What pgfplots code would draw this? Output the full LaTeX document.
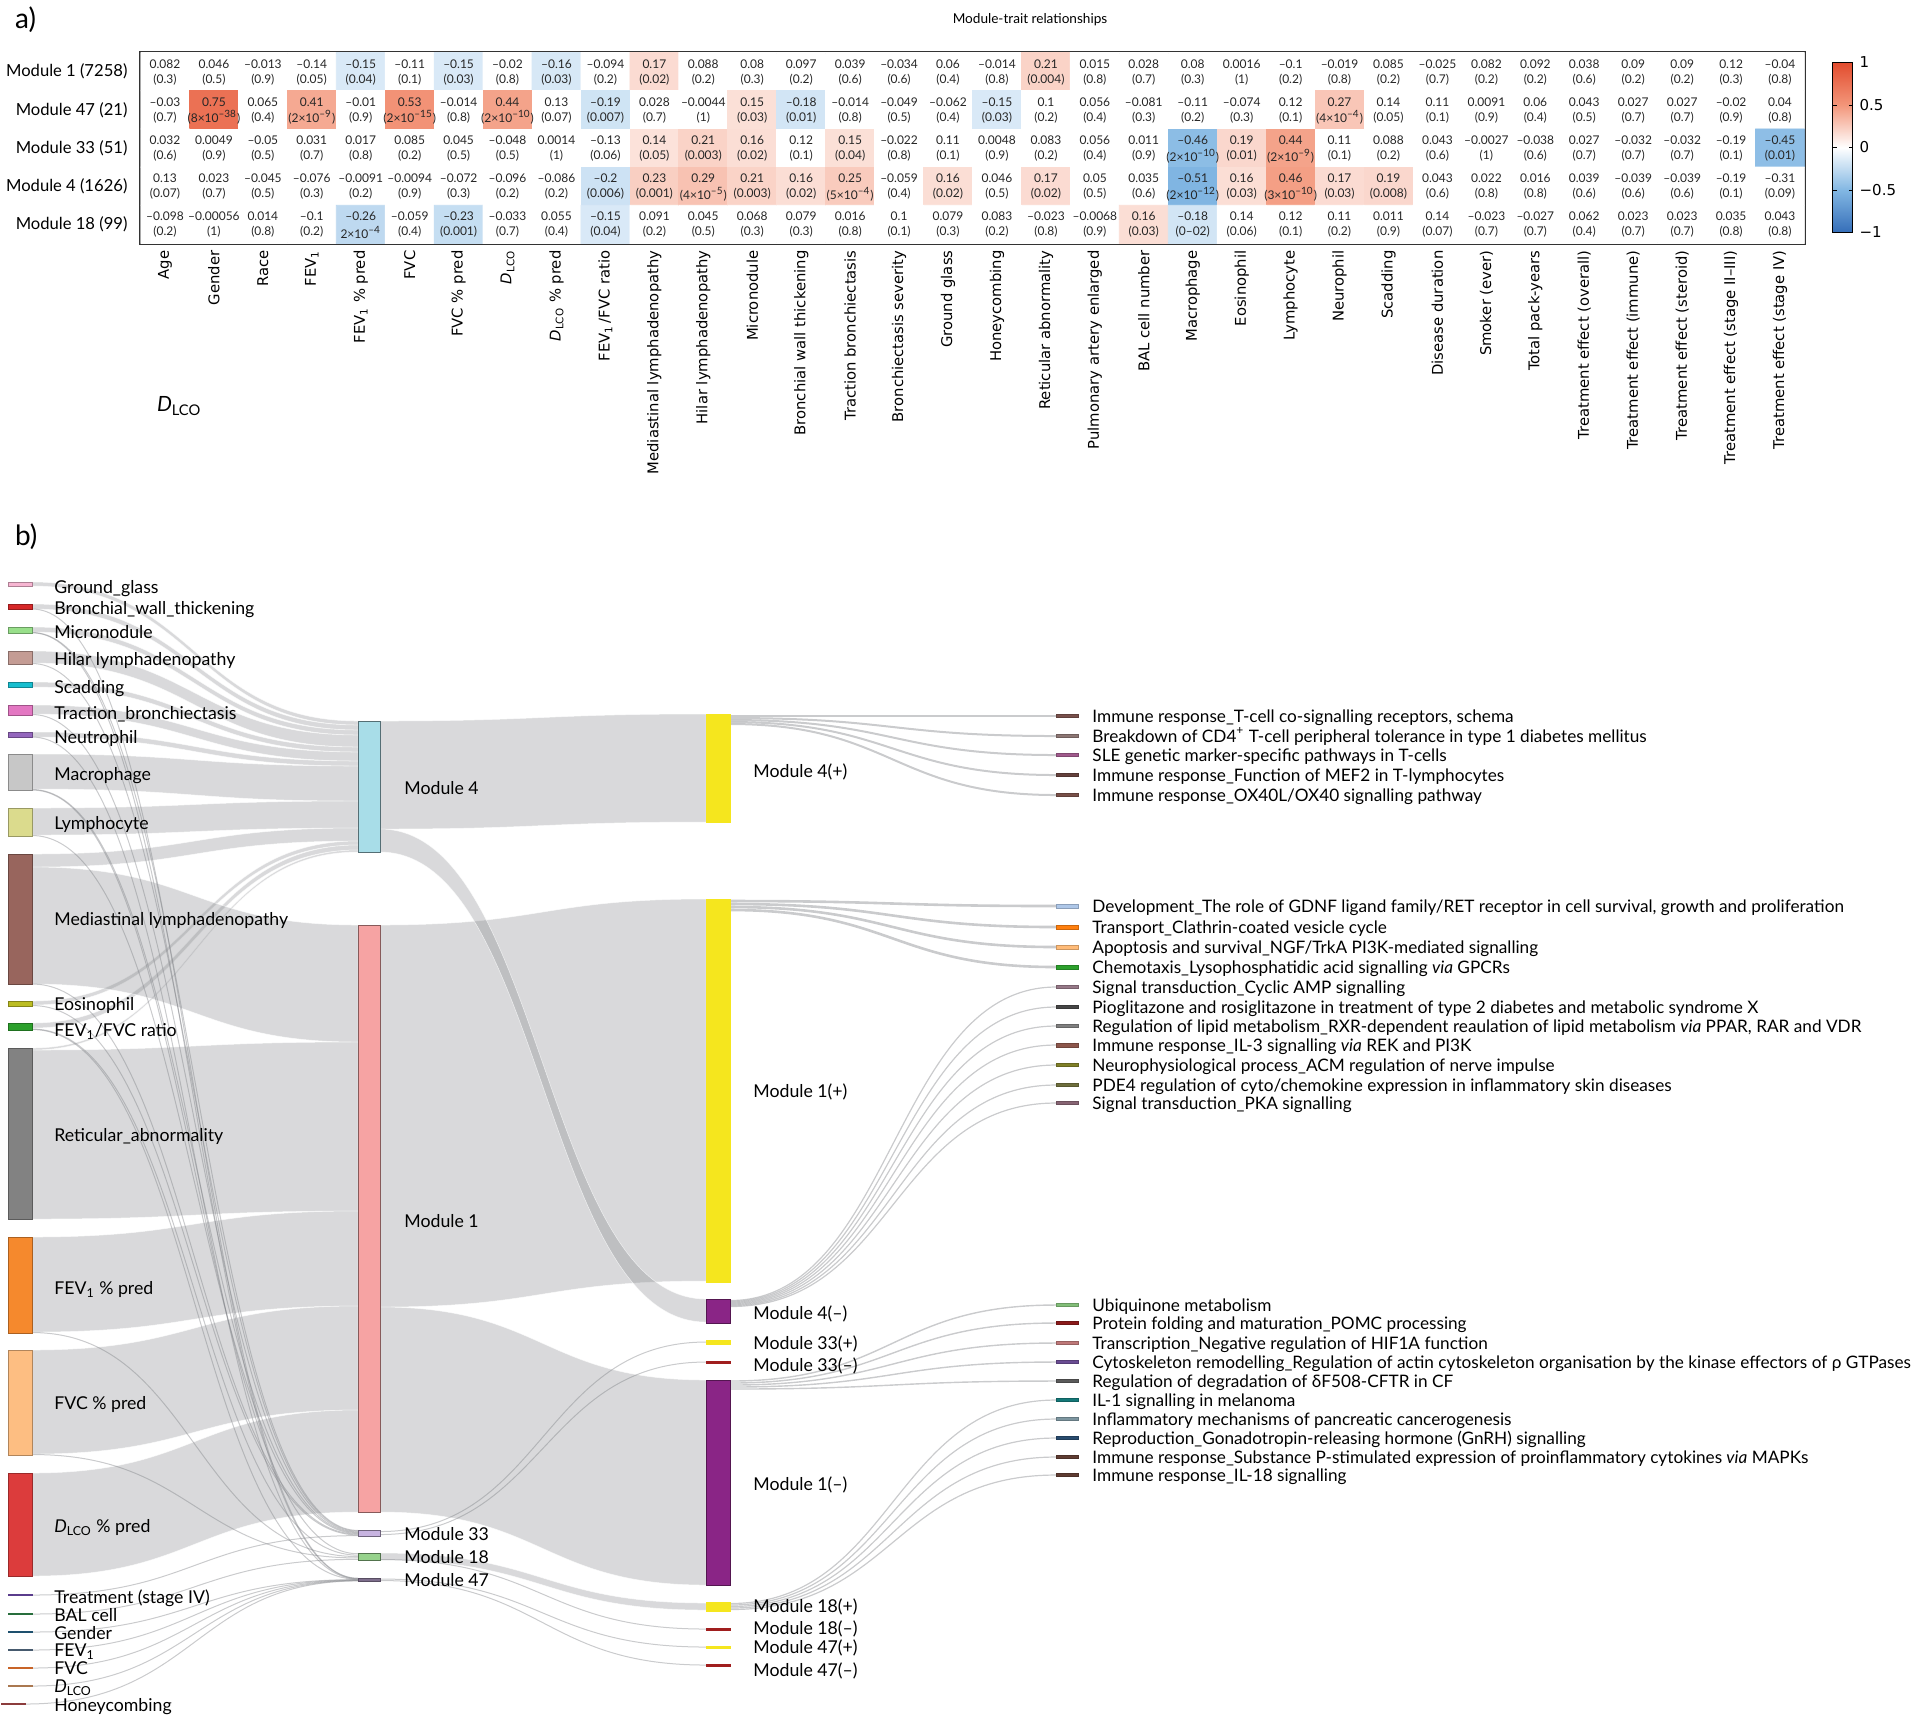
\documentclass[border=0pt]{standalone}
\usepackage{pgfplots}
\pgfplotsset{compat=1.18}
\usepackage{pgfplotstable}
\usepackage{fontspec}
\setmainfont{Lato}
\newfontfamily\dejavu{DejaVu Sans}

\newcommand\fs[2]{\fontsize{#1}{#2}\selectfont}
\protected\def\e#1#2{#1×10\textsuperscript{#2}}

% node colours (left, module, signed module)
\definecolor{bandgray}{RGB}{128,130,135}
\definecolor{cGG}{RGB}{247,182,210}\definecolor{cBW}{RGB}{214,39,40}
\definecolor{cMi}{RGB}{152,223,138}\definecolor{cHi}{RGB}{196,156,148}
\definecolor{cSc}{RGB}{23,190,207}\definecolor{cTr}{RGB}{227,119,194}
\definecolor{cNe}{RGB}{148,103,189}\definecolor{cMa}{RGB}{199,199,199}
\definecolor{cLy}{RGB}{219,219,141}\definecolor{cMe}{RGB}{152,101,93}
\definecolor{cEo}{RGB}{188,189,34}\definecolor{cFF}{RGB}{44,160,44}
\definecolor{cRe}{RGB}{130,130,130}\definecolor{cF1}{RGB}{245,137,45}
\definecolor{cFV}{RGB}{253,190,130}\definecolor{cDL}{RGB}{220,60,60}
\definecolor{cT4}{RGB}{90,60,140}\definecolor{cBA}{RGB}{40,110,60}
\definecolor{cGe}{RGB}{30,80,110}\definecolor{cFE}{RGB}{70,90,110}
\definecolor{cFC}{RGB}{200,100,40}\definecolor{cDC}{RGB}{170,120,80}
\definecolor{cHo}{RGB}{140,60,60}
\definecolor{cM4}{RGB}{168,221,232}\definecolor{cM1}{RGB}{246,163,163}
\definecolor{cM33}{RGB}{200,180,225}\definecolor{cM18}{RGB}{150,210,140}
\definecolor{cM47}{RGB}{125,110,140}
\definecolor{cYe}{RGB}{245,230,30}\definecolor{cPu}{RGB}{138,37,134}
\definecolor{cDR}{RGB}{160,30,30}
% pathway colours
\definecolor{pA1}{RGB}{120,80,75}\definecolor{pA2}{RGB}{140,118,115}
\definecolor{pA3}{RGB}{160,90,140}\definecolor{pA4}{RGB}{100,65,60}
\definecolor{pA5}{RGB}{120,80,72}
\definecolor{pB1}{RGB}{174,199,232}\definecolor{pB2}{RGB}{255,127,14}
\definecolor{pB3}{RGB}{255,187,120}\definecolor{pB4}{RGB}{44,160,44}
\definecolor{pB5}{RGB}{150,120,135}\definecolor{pB6}{RGB}{70,70,70}
\definecolor{pB7}{RGB}{127,127,127}\definecolor{pB8}{RGB}{140,86,75}
\definecolor{pB9}{RGB}{128,128,40}\definecolor{pB10}{RGB}{110,110,60}
\definecolor{pB11}{RGB}{135,100,115}
\definecolor{pC1}{RGB}{130,190,120}\definecolor{pC2}{RGB}{139,26,26}
\definecolor{pC3}{RGB}{190,120,120}\definecolor{pC4}{RGB}{106,76,147}
\definecolor{pC5}{RGB}{90,90,90}\definecolor{pC6}{RGB}{20,120,120}
\definecolor{pC7}{RGB}{125,150,160}\definecolor{pC8}{RGB}{40,75,110}
\definecolor{pC9}{RGB}{95,60,50}\definecolor{pC10}{RGB}{95,60,50}

\tikzset{
  bandfill/.style={fill=bandgray, fill opacity=0.3, draw=white, draw opacity=0.7, line width=0.25pt},
  thinlink/.style={draw=bandgray, draw opacity=0.42},
}
% sankey helpers, all in pixel units of the axis
\newcommand\band[7]{\fill[bandfill] (axis cs:#1,#2) .. controls (axis cs:#7,#2) and (axis cs:#7,#5) .. (axis cs:#4,#5) -- (axis cs:#4,#6) .. controls (axis cs:#7,#6) and (axis cs:#7,#3) .. (axis cs:#1,#3) -- cycle;}
\newcommand\LM[4]{\band{32}{#1}{#2}{358}{#3}{#4}{195}}
\newcommand\MP[4]{\band{380}{#1}{#2}{706}{#3}{#4}{543}}
\newcommand\tl[6]{\draw[thinlink, line width=#6] (axis cs:#1,#2) .. controls (axis cs:#5,#2) and (axis cs:#5,#4) .. (axis cs:#3,#4);}
\newcommand\LMl[2]{\tl{32}{#1}{358}{#2}{195}{0.5pt}}
\newcommand\MPl[2]{\tl{380}{#1}{706}{#2}{543}{0.5pt}}
\newcommand\PQl[3]{\tl{730}{#1}{1056}{#2}{893}{#3}}
\newcommand\snode[6]{\addplot[fill=#5, draw=#6, line width=0.5pt] coordinates {(#1,#2) (#3,#2) (#3,#4) (#1,#4)} -- cycle;}
\newcommand\pmark[3]{\snode{1056}{#1-#3}{1078}{#1+#3}{#2}{#2!80!black}}
\newcommand\lab[3]{\node[anchor=west, inner sep=0pt, text height=6.3pt, text depth=0pt, font=\fs{8.85}{10}] at (axis cs:#1,#2) {#3};}
\newcommand\plab[2]{\node[anchor=west, inner sep=0pt, text height=6.1pt, text depth=0pt, font=\fs{8.6}{9.5}] at (axis cs:1092,#1) {#2};}

% module-trait correlations: c = colour value (0 if not significant)
\pgfplotstableread[col sep=semicolon]{
x;y;c;v;p
1;1;0;0.082;(0.3)
2;1;0;0.046;(0.5)
3;1;0;–0.013;(0.9)
4;1;0;–0.14;(0.05)
5;1;-0.15;–0.15;(0.04)
6;1;0;–0.11;(0.1)
7;1;-0.15;–0.15;(0.03)
8;1;0;–0.02;(0.8)
9;1;-0.16;–0.16;(0.03)
10;1;0;–0.094;(0.2)
11;1;0.17;0.17;(0.02)
12;1;0;0.088;(0.2)
13;1;0;0.08;(0.3)
14;1;0;0.097;(0.2)
15;1;0;0.039;(0.6)
16;1;0;–0.034;(0.6)
17;1;0;0.06;(0.4)
18;1;0;–0.014;(0.8)
19;1;0.21;0.21;(0.004)
20;1;0;0.015;(0.8)
21;1;0;0.028;(0.7)
22;1;0;0.08;(0.3)
23;1;0;0.0016;(1)
24;1;0;–0.1;(0.2)
25;1;0;–0.019;(0.8)
26;1;0;0.085;(0.2)
27;1;0;–0.025;(0.7)
28;1;0;0.082;(0.2)
29;1;0;0.092;(0.2)
30;1;0;0.038;(0.6)
31;1;0;0.09;(0.2)
32;1;0;0.09;(0.2)
33;1;0;0.12;(0.3)
34;1;0;–0.04;(0.8)
1;2;0;–0.03;(0.7)
2;2;0.75;0.75;(\e{8}{–38})
3;2;0;0.065;(0.4)
4;2;0.41;0.41;(\e{2}{–9})
5;2;0;–0.01;(0.9)
6;2;0.53;0.53;(\e{2}{–15})
7;2;0;–0.014;(0.8)
8;2;0.44;0.44;(\e{2}{–10})
9;2;0;0.13;(0.07)
10;2;-0.19;–0.19;(0.007)
11;2;0;0.028;(0.7)
12;2;0;–0.0044;(1)
13;2;0.15;0.15;(0.03)
14;2;-0.18;–0.18;(0.01)
15;2;0;–0.014;(0.8)
16;2;0;–0.049;(0.5)
17;2;0;–0.062;(0.4)
18;2;-0.15;–0.15;(0.03)
19;2;0;0.1;(0.2)
20;2;0;0.056;(0.4)
21;2;0;–0.081;(0.3)
22;2;0;–0.11;(0.2)
23;2;0;–0.074;(0.3)
24;2;0;0.12;(0.1)
25;2;0.27;0.27;(\e{4}{–4})
26;2;0;0.14;(0.05)
27;2;0;0.11;(0.1)
28;2;0;0.0091;(0.9)
29;2;0;0.06;(0.4)
30;2;0;0.043;(0.5)
31;2;0;0.027;(0.7)
32;2;0;0.027;(0.7)
33;2;0;–0.02;(0.9)
34;2;0;0.04;(0.8)
1;3;0;0.032;(0.6)
2;3;0;0.0049;(0.9)
3;3;0;–0.05;(0.5)
4;3;0;0.031;(0.7)
5;3;0;0.017;(0.8)
6;3;0;0.085;(0.2)
7;3;0;0.045;(0.5)
8;3;0;–0.048;(0.5)
9;3;0;0.0014;(1)
10;3;0;–0.13;(0.06)
11;3;0.14;0.14;(0.05)
12;3;0.21;0.21;(0.003)
13;3;0.16;0.16;(0.02)
14;3;0;0.12;(0.1)
15;3;0.15;0.15;(0.04)
16;3;0;–0.022;(0.8)
17;3;0;0.11;(0.1)
18;3;0;0.0048;(0.9)
19;3;0;0.083;(0.2)
20;3;0;0.056;(0.4)
21;3;0;0.011;(0.9)
22;3;-0.46;–0.46;(\e{2}{–10})
23;3;0.19;0.19;(0.01)
24;3;0.44;0.44;(\e{2}{–9})
25;3;0;0.11;(0.1)
26;3;0;0.088;(0.2)
27;3;0;0.043;(0.6)
28;3;0;–0.0027;(1)
29;3;0;–0.038;(0.6)
30;3;0;0.027;(0.7)
31;3;0;–0.032;(0.7)
32;3;0;–0.032;(0.7)
33;3;0;–0.19;(0.1)
34;3;-0.45;–0.45;(0.01)
1;4;0;0.13;(0.07)
2;4;0;0.023;(0.7)
3;4;0;–0.045;(0.5)
4;4;0;–0.076;(0.3)
5;4;0;–0.0091;(0.2)
6;4;0;–0.0094;(0.9)
7;4;0;–0.072;(0.3)
8;4;0;–0.096;(0.2)
9;4;0;–0.086;(0.2)
10;4;-0.2;–0.2;(0.006)
11;4;0.23;0.23;(0.001)
12;4;0.29;0.29;(\e{4}{–5})
13;4;0.21;0.21;(0.003)
14;4;0.16;0.16;(0.02)
15;4;0.25;0.25;(\e{5}{–4})
16;4;0;–0.059;(0.4)
17;4;0.16;0.16;(0.02)
18;4;0;0.046;(0.5)
19;4;0.17;0.17;(0.02)
20;4;0;0.05;(0.5)
21;4;0;0.035;(0.6)
22;4;-0.51;–0.51;(\e{2}{–12})
23;4;0.16;0.16;(0.03)
24;4;0.46;0.46;(\e{3}{–10})
25;4;0.17;0.17;(0.03)
26;4;0.19;0.19;(0.008)
27;4;0;0.043;(0.6)
28;4;0;0.022;(0.8)
29;4;0;0.016;(0.8)
30;4;0;0.039;(0.6)
31;4;0;–0.039;(0.6)
32;4;0;–0.039;(0.6)
33;4;0;–0.19;(0.1)
34;4;0;–0.31;(0.09)
1;5;0;–0.098;(0.2)
2;5;0;–0.00056;(1)
3;5;0;0.014;(0.8)
4;5;0;–0.1;(0.2)
5;5;-0.26;–0.26;\e{2}{–4}
6;5;0;–0.059;(0.4)
7;5;-0.23;–0.23;(0.001)
8;5;0;–0.033;(0.7)
9;5;0;0.055;(0.4)
10;5;-0.15;–0.15;(0.04)
11;5;0;0.091;(0.2)
12;5;0;0.045;(0.5)
13;5;0;0.068;(0.3)
14;5;0;0.079;(0.3)
15;5;0;0.016;(0.8)
16;5;0;0.1;(0.1)
17;5;0;0.079;(0.3)
18;5;0;0.083;(0.2)
19;5;0;–0.023;(0.8)
20;5;0;–0.0068;(0.9)
21;5;0.16;0.16;(0.03)
22;5;-0.18;–0.18;(0–02)
23;5;0;0.14;(0.06)
24;5;0;0.12;(0.1)
25;5;0;0.11;(0.2)
26;5;0;0.011;(0.9)
27;5;0;0.14;(0.07)
28;5;0;–0.023;(0.7)
29;5;0;–0.027;(0.7)
30;5;0;0.062;(0.4)
31;5;0;0.023;(0.7)
32;5;0;0.023;(0.7)
33;5;0;0.035;(0.8)
34;5;0;0.043;(0.8)
}\hmdata

\begin{document}
\begin{tikzpicture}
\useasboundingbox (0,0) rectangle (960pt,-859pt);

% ---------- a) heatmap ----------
\begin{axis}[
  at={(70.25pt,-26.25pt)}, anchor=north west,
  scale only axis, width=832pt, height=95.5pt,
  xmin=0.5, xmax=34.5, ymin=0.5, ymax=5.5, y dir=reverse,
  xtick={1,...,34}, ytick={1,...,5},
  xticklabels={{Age},{Gender},{Race},{FEV\textsubscript{1}},{FEV\textsubscript{1} \% pred},{FVC},{FVC \% pred},{\textit{D}\textsubscript{LCO}},{\textit{D}\textsubscript{LCO} \% pred},{FEV\textsubscript{1}\,/FVC ratio},{Mediastinal lymphadenopathy},{Hilar lymphadenopathy},{Micronodule},{Bronchial wall thickening},{Traction bronchiectasis},{Bronchiectasis severity},{Ground glass},{Honeycombing},{Reticular abnormality},{Pulmonary artery enlarged},{BAL cell number},{Macrophage},{Eosinophil},{Lymphocyte},{Neurophil},{Scadding},{Disease duration},{Smoker (ever)},{Total pack-years},{Treatment effect (overall)},{Treatment effect (immune)},{Treatment effect (steroid)},{Treatment effect (stage II–III)},{Treatment effect (stage IV)}},
  yticklabels={{Module 1 (7258)},{Module 47 (21)},{Module 33 (51)},{Module 4 (1626)},{Module 18 (99)}},
  xticklabel style={rotate=90, anchor=east, font=\dejavu\fs{7.4}{8}},
  yticklabel style={font=\fs{8.3}{9}, xshift=-3pt},
  tick style={draw=none},
  axis line style={line width=1.1pt, black!80},
  colormap={hm}{rgb255(0cm)=(53,110,185) rgb255(1cm)=(130,183,227) rgb255(2cm)=(255,255,255) rgb255(3cm)=(243,150,122) rgb255(4cm)=(226,76,46)},
  point meta min=-1, point meta max=1,
  colorbar,
  colorbar style={at={(parent axis.north east)}, anchor=north west, xshift=5.5pt, yshift=-5pt,
    width=10pt, height=85pt, ytick={-1,-0.5,0,0.5,1}, yticklabels={−1,−0.5,0,0.5,1},
    yticklabel style={font=\dejavu\fs{7.5}{8}}, major tick length=2pt,
    tick style={draw=black, line width=0.5pt}, axis line style={line width=0.6pt}},
]
\addplot[matrix plot*, mesh/cols=34, point meta=explicit] table[x=x, y=y, meta=c] {\hmdata};
\addplot[draw=none, mark=none, point meta=explicit symbolic, nodes near coords,
  every node near coord/.style={anchor=center, yshift=3.9pt, inner sep=0pt, font=\fs{6}{6.5}, text=black!85}]
  table[x=x, y=y, meta=v] {\hmdata};
\addplot[draw=none, mark=none, point meta=explicit symbolic, nodes near coords,
  every node near coord/.style={anchor=center, yshift=-3.9pt, inner sep=0pt, font=\fs{6}{6.5}, text=black!85}]
  table[x=x, y=y, meta=p] {\hmdata};
\end{axis}

% ---------- b) sankey, axis units = pixels ----------
\begin{axis}[
  at={(0pt,0pt)}, anchor=north west, scale only axis, width=960pt, height=859pt,
  xmin=0, xmax=1920, ymin=0, ymax=1718, y dir=reverse, hide axis, clip=false,
]
% titles
\node[anchor=west, font=\fs{14}{16}] at (axis cs:8,20) {a)};
\node[anchor=west, font=\fs{14}{16}] at (axis cs:8,537) {b)};
\node[font=\fs{6.8}{8}] at (axis cs:1030,20) {Module-trait relationships};
\node[anchor=west, font=\fs{10.5}{12}] at (axis cs:150,406) {\textit{D}\textsubscript{LCO}};

% traits -> modules
\LM{582}{586}{721}{725}
\LM{604}{609}{725}{730}
\LM{627}{632}{730}{735}
\LM{651}{663}{735}{747}
\LM{682}{687}{747}{752}
\LM{705}{714}{752}{761}
\LM{732}{737}{761}{766}
\LM{754}{789}{766}{801}
\LM{808}{835}{801}{828}
\LM{854}{867}{828}{841}
\LM{1001}{1005}{841}{845}
\LM{1023}{1028}{845}{850}
\LM{1048}{1050}{850}{852}
\LM{867}{984}{925}{1042}
\LM{1050}{1219}{1042}{1211}
\LM{1237}{1332}{1211}{1306}
\LM{1350}{1454}{1306}{1410}
\LM{1473}{1576}{1410}{1512}
% to module 33
\LMl{632.5}{1530.4}\LMl{663.5}{1531.1}\LMl{714.5}{1531.9}\LMl{789.5}{1532.6}
\LMl{835.5}{1533.4}\LMl{984}{1534.1}\LMl{1005.5}{1534.9}\LMl{1595}{1535.6}
% to module 18
\LMl{790}{1553.7}\LMl{1029}{1555.1}\LMl{1332.5}{1556.5}\LMl{1454.5}{1557.9}\LMl{1614}{1559.3}
% to module 47
\LMl{609}{1578.2}\LMl{632.8}{1578.5}\LMl{737}{1578.9}\LMl{1029.5}{1579.2}\LMl{1632}{1579.6}
\LMl{1650}{1579.9}\LMl{1668}{1580.3}\LMl{1686}{1580.6}\tl{25}{1704}{358}{1580.9}{195}{0.5pt}

% modules -> signed modules
\MP{721}{829}{714}{822}
\MP{925}{1307}{899}{1281}
\MP{1307}{1512}{1380}{1585}
\MP{829}{852}{1299}{1322}
\MP{1553}{1560}{1603}{1610}
\MPl{1531.5}{1342}\MPl{1534.5}{1362}\MPl{1559.5}{1629}\MPl{1579}{1647}\MPl{1580.5}{1665}

% signed modules -> pathways
\PQl{716}{716}{1pt}\PQl{718}{736}{1pt}\PQl{720}{755}{1pt}\PQl{722}{775}{1pt}\PQl{724}{795}{1pt}
\PQl{901}{906}{1.3pt}\PQl{904}{927}{1.3pt}\PQl{907}{947}{1.3pt}\PQl{910}{967}{1.3pt}
\PQl{1300.5}{987}{0.6pt}\PQl{1301.5}{1007}{0.6pt}\PQl{1302.5}{1026}{0.6pt}\PQl{1303.5}{1045}{0.6pt}
\PQl{1304.5}{1065}{0.6pt}\PQl{1305.5}{1085}{0.6pt}\PQl{1306.5}{1103}{0.6pt}
\PQl{1381}{1305}{0.7pt}\PQl{1383}{1323}{0.7pt}\PQl{1385}{1343}{0.7pt}\PQl{1387}{1362}{0.7pt}\PQl{1389}{1381}{0.7pt}
\PQl{1603.5}{1400}{0.6pt}\PQl{1605}{1419}{0.6pt}\PQl{1606.5}{1438}{0.6pt}\PQl{1608}{1457}{0.6pt}\PQl{1609.5}{1475}{0.6pt}

% trait nodes
\snode{8}{582}{32}{586}{cGG}{cGG!70!black}
\snode{8}{604}{32}{609}{cBW}{cBW!70!black}
\snode{8}{627}{32}{633}{cMi}{cMi!70!black}
\snode{8}{651}{32}{664}{cHi}{cHi!70!black}
\snode{8}{682}{32}{687}{cSc}{cSc!70!black}
\snode{8}{705}{32}{715}{cTr}{cTr!70!black}
\snode{8}{732}{32}{737}{cNe}{cNe!70!black}
\snode{8}{754}{32}{790}{cMa}{cMa!70!black}
\snode{8}{808}{32}{836}{cLy}{cLy!70!black}
\snode{8}{854}{32}{984}{cMe}{cMe!70!black}
\snode{8}{1001}{32}{1006}{cEo}{cEo!70!black}
\snode{8}{1023}{32}{1030}{cFF}{cFF!70!black}
\snode{8}{1048}{32}{1219}{cRe}{cRe!70!black}
\snode{8}{1237}{32}{1333}{cF1}{cF1!70!black}
\snode{8}{1350}{32}{1455}{cFV}{cFV!70!black}
\snode{8}{1473}{32}{1576}{cDL}{cDL!70!black}
\snode{8}{1594.3}{32}{1595.7}{cT4}{cT4}
\snode{8}{1613.3}{32}{1614.7}{cBA}{cBA}
\snode{8}{1631.3}{32}{1632.7}{cGe}{cGe}
\snode{8}{1649.3}{32}{1650.7}{cFE}{cFE}
\snode{8}{1667.3}{32}{1668.7}{cFC}{cFC}
\snode{8}{1685.3}{32}{1686.7}{cDC}{cDC}
\snode{2}{1703.3}{25}{1704.7}{cHo}{cHo}
% module nodes
\snode{358}{721}{380}{852}{cM4}{cM4!50!black}
\snode{358}{925}{380}{1512}{cM1}{cM1!55!black}
\snode{358}{1530}{380}{1536}{cM33}{cM33!55!black}
\snode{358}{1553}{380}{1560}{cM18}{cM18!55!black}
\snode{358}{1578}{380}{1581}{cM47}{cM47!70!black}
% signed module nodes
\snode{706}{714}{730}{822}{cYe}{cYe}
\snode{706}{899}{730}{1282}{cYe}{cYe}
\snode{706}{1299}{730}{1323}{cPu}{cPu!60!black}
\snode{706}{1340}{730}{1344}{cYe}{cYe}
\snode{706}{1361}{730}{1363}{cDR}{cDR}
\snode{706}{1380}{730}{1585}{cPu}{cPu!60!black}
\snode{706}{1602}{730}{1611}{cYe}{cYe}
\snode{706}{1628}{730}{1630}{cDR}{cDR}
\snode{706}{1646}{730}{1648}{cYe}{cYe}
\snode{706}{1664}{730}{1666}{cDR}{cDR}
% pathway markers
\pmark{716}{pA1}{1.6}\pmark{736}{pA2}{1.6}\pmark{755}{pA3}{1.6}\pmark{775}{pA4}{1.6}\pmark{795}{pA5}{1.6}
\pmark{906}{pB1}{2}\pmark{927}{pB2}{2}\pmark{947}{pB3}{2}\pmark{967}{pB4}{2}\pmark{987}{pB5}{1.4}
\pmark{1007}{pB6}{1.4}\pmark{1026}{pB7}{1.4}\pmark{1045}{pB8}{2}\pmark{1065}{pB9}{1.4}\pmark{1085}{pB10}{1.4}
\pmark{1103}{pB11}{1.4}
\pmark{1305}{pC1}{1.6}\pmark{1323}{pC2}{1.6}\pmark{1343}{pC3}{1.6}\pmark{1362}{pC4}{1.6}\pmark{1381}{pC5}{1.6}
\pmark{1400}{pC6}{1.6}\pmark{1419}{pC7}{1.4}\pmark{1438}{pC8}{1.4}\pmark{1457}{pC9}{1.4}\pmark{1475}{pC10}{1.4}

% trait labels
\lab{54}{587}{Ground\_glass}
\lab{54}{608}{Bronchial\_wall\_thickening}
\lab{54}{632}{Micronodule}
\lab{54}{659}{Hilar lymphadenopathy}
\lab{54}{687}{Scadding}
\lab{54}{713}{Traction\_bronchiectasis}
\lab{54}{737}{Neutrophil}
\lab{54}{774}{Macrophage}
\lab{54}{823}{Lymphocyte}
\lab{54}{919}{Mediastinal lymphadenopathy}
\lab{54}{1004}{Eosinophil}
\lab{54}{1030}{FEV\textsubscript{1}/FVC ratio}
\lab{54}{1135}{Reticular\_abnormality}
\lab{54}{1288}{FEV\textsubscript{1} \% pred}
\lab{54}{1403}{FVC \% pred}
\lab{54}{1526}{\textit{D}\textsubscript{LCO} \% pred}
\lab{54}{1597}{Treatment (stage IV)}
\lab{54}{1615}{BAL cell}
\lab{54}{1633}{Gender}
\lab{54}{1650}{FEV\textsubscript{1}}
\lab{54}{1668}{FVC}
\lab{54}{1686}{\textit{D}\textsubscript{LCO}}
\lab{54}{1705}{Honeycombing}
% module labels
\lab{404}{788}{Module 4}
\lab{404}{1221}{Module 1}
\lab{404}{1534}{Module 33}
\lab{404}{1557}{Module 18}
\lab{404}{1580}{Module 47}
\lab{753}{771}{Module 4(+)}
\lab{753}{1091}{Module 1(+)}
\lab{753}{1313}{Module 4(–)}
\lab{753}{1343}{Module 33(+)}
\lab{753}{1365}{Module 33(–)}
\lab{753}{1484}{Module 1(–)}
\lab{753}{1606}{Module 18(+)}
\lab{753}{1628}{Module 18(–)}
\lab{753}{1647}{Module 47(+)}
\lab{753}{1670}{Module 47(–)}
% pathway labels
\plab{716}{Immune response\_T-cell co-signalling receptors, schema}
\plab{736}{Breakdown of CD4\textsuperscript{+} T-cell peripheral tolerance in type 1 diabetes mellitus}
\plab{755}{SLE genetic marker-specific pathways in T-cells}
\plab{775}{Immune response\_Function of MEF2 in T-lymphocytes}
\plab{795}{Immune response\_OX40L/OX40 signalling pathway}
\plab{906}{Development\_The role of GDNF ligand family/RET receptor in cell survival, growth and proliferation}
\plab{927}{Transport\_Clathrin-coated vesicle cycle}
\plab{947}{Apoptosis and survival\_NGF/TrkA PI3K-mediated signalling}
\plab{967}{Chemotaxis\_Lysophosphatidic acid signalling \textit{via} GPCRs}
\plab{987}{Signal transduction\_Cyclic AMP signalling}
\plab{1007}{Pioglitazone and rosiglitazone in treatment of type 2 diabetes and metabolic syndrome X}
\plab{1026}{Regulation of lipid metabolism\_RXR-dependent reaulation of lipid metabolism \textit{via} PPAR, RAR and VDR}
\plab{1045}{Immune response\_IL-3 signalling \textit{via} REK and PI3K}
\plab{1065}{Neurophysiological process\_ACM regulation of nerve impulse}
\plab{1085}{PDE4 regulation of cyto/chemokine expression in inflammatory skin diseases}
\plab{1103}{Signal transduction\_PKA signalling}
\plab{1305}{Ubiquinone metabolism}
\plab{1323}{Protein folding and maturation\_POMC processing}
\plab{1343}{Transcription\_Negative regulation of HIF1A function}
\plab{1362}{Cytoskeleton remodelling\_Regulation of actin cytoskeleton organisation by the kinase effectors of ρ GTPases}
\plab{1381}{Regulation of degradation of δF508-CFTR in CF}
\plab{1400}{IL-1 signalling in melanoma}
\plab{1419}{Inflammatory mechanisms of pancreatic cancerogenesis}
\plab{1438}{Reproduction\_Gonadotropin-releasing hormone (GnRH) signalling}
\plab{1457}{Immune response\_Substance P-stimulated expression of proinflammatory cytokines \textit{via} MAPKs}
\plab{1475}{Immune response\_IL-18 signalling}
\end{axis}
\end{tikzpicture}
\end{document}
